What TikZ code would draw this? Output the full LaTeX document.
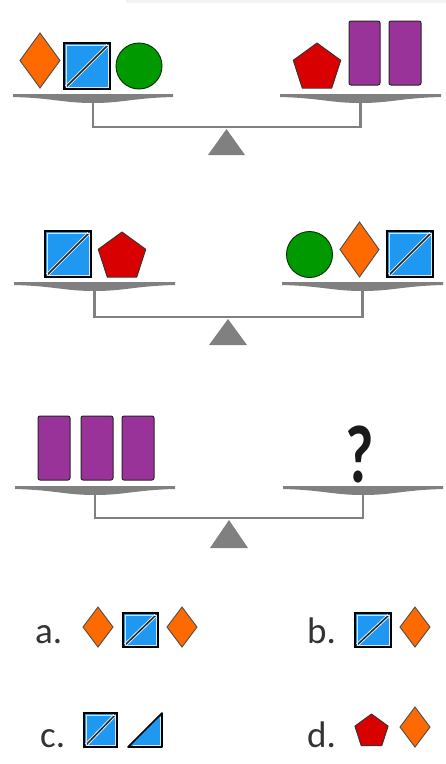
\documentclass[tikz,border=0pt]{standalone}
\usepackage{fontspec}
\setmainfont{Carlito}
\definecolor{orangeC}{HTML}{FF6A00}
\definecolor{blueC}{HTML}{1E98F0}
\definecolor{greenC}{HTML}{009A00}
\definecolor{redC}{HTML}{D80000}
\definecolor{purpleC}{HTML}{993399}
\definecolor{grayC}{HTML}{808080}
\definecolor{textC}{HTML}{333333}
\tikzset{
  diamsty/.style={fill=orangeC, draw=black!70, line width=0.9},
  pentsty/.style={fill=redC, draw=black!80, line width=0.9, line join=round},
  circsty/.style={fill=greenC, draw=black!70!greenC, line width=0.9},
  rectsty/.style={fill=purpleC, draw=black!85, line width=1, rounded corners=2},
  pansty/.style={fill=grayC},
  beamsty/.style={draw=grayC, line width=2.4},
  labelsty/.style={anchor=base west, inner sep=0, text=textC, font=\fontsize{37}{40}\selectfont}
}
\newcommand{\Diam}[4]{%
  \draw[diamsty] (#1-#3/2,#2) -- (#1,#2-#4/2) -- (#1+#3/2,#2) -- (#1,#2+#4/2) -- cycle;}
\newcommand{\Sq}[4]{%
  \fill[blueC] (#1,#2) rectangle (#3,#4);
  \draw[white!85!blueC, line width=3.4] (#1+2,#4-2) -- (#3-2,#2+2);
  \draw[black!85, line width=1.5] (#1+1.5,#4-1.5) -- (#3-1.5,#2+1.5);
  \draw[white!80!blueC, line width=0.6] (#1+2,#2+2) rectangle (#3-2,#4-2);
  \draw[black, line width=1.8] (#1,#2) rectangle (#3,#4);}
\newcommand{\Pent}[3]{%
  \draw[pentsty, shift={(#1,#2)}] (-90:#3) -- (-18:#3) -- (54:#3) -- (126:#3) -- (198:#3) -- cycle;}
\newcommand{\Pan}[3]{%
  \fill[pansty] (#1,#3) -- (#2,#3) -- (#2,#3+3) .. controls ({#2-40},#3+4) and ({(#1+#2)/2+30},#3+9) .. ({(#1+#2)/2},#3+9)
    .. controls ({(#1+#2)/2-30},#3+9) and ({#1+40},#3+4) .. (#1,#3+3) -- cycle;}
\newcommand{\Balance}[9]{% lx1 lx2 rx1 rx2 pany beamy tx1 tx2 tbase
  \Pan{#1}{#2}{#5}\Pan{#3}{#4}{#5}
  \draw[beamsty] ({(#1+#2)/2},#5+8) -- ({(#1+#2)/2},#6) -- ({(#3+#4)/2},#6) -- ({(#3+#4)/2},#5+8);
  \fill[pansty] (#7,#9) -- (#8,#9) -- ({(#7+#8)/2},#6+2) -- cycle;}
\begin{document}
\begin{tikzpicture}[x=1pt,y=-1pt]
\useasboundingbox (0,0) rectangle (446,764);
\fill[black!5] (126,0) rectangle (446,2.5);
% ---------- balance 1
\Balance{13}{173}{280}{441}{94}{127}{208}{245}{155}
\Diam{40}{60.5}{40}{55}
\Sq{64}{43}{110}{89}
\draw[circsty] (139,66) circle (23);
\Pent{317}{68}{25}
\draw[rectsty] (349,21) rectangle (380,85);
\draw[rectsty] (389,21) rectangle (421,85);
% ---------- balance 2
\Balance{14}{175}{282}{443}{282}{317}{209}{247}{345}
\Sq{45}{231}{91}{277}
\Pent{122}{257}{25}
\draw[circsty] (309.5,254.5) circle (23);
\Diam{359.5}{249.5}{39}{55}
\Sq{387}{231}{433}{277}
% ---------- balance 3
\Balance{15}{175}{283}{443}{486}{518}{210}{248}{548}
\draw[rectsty] (38,416) rectangle (70,480);
\draw[rectsty] (81,416) rectangle (113,480);
\draw[rectsty] (122,416) rectangle (154,480);
\node (q) [anchor=base, inner sep=0, xscale=0.75, text=black!90, font=\bfseries\fontsize{82}{82}\selectfont] at (360,482) {?};
% ---------- answers
\node (la) [labelsty] at (35,643) {a.};
\Diam{98}{627}{30}{40}
\Sq{123}{613}{158}{647}
\Diam{182}{627}{30}{40}
\node (lb) [labelsty] at (307,643) {b.};
\Sq{355}{613}{391}{647}
\Diam{415}{627}{30}{40}
\node (lc) [labelsty] at (40,747) {c.};
\Sq{84}{713}{117}{747}
\fill[blueC] (128,747) -- (162,747) -- (162,713) -- cycle;
\draw[white!80!blueC, line width=0.6] (133,745) -- (160,745) -- (160,717);
\draw[black, line width=1.6, line join=round] (128,747) -- (162,747) -- (162,713) -- cycle;
\node (ld) [labelsty] at (307,747) {d.};
\Pent{371.5}{731.5}{17.5}
\Diam{415}{727}{30}{40}
\end{tikzpicture}
\end{document}
